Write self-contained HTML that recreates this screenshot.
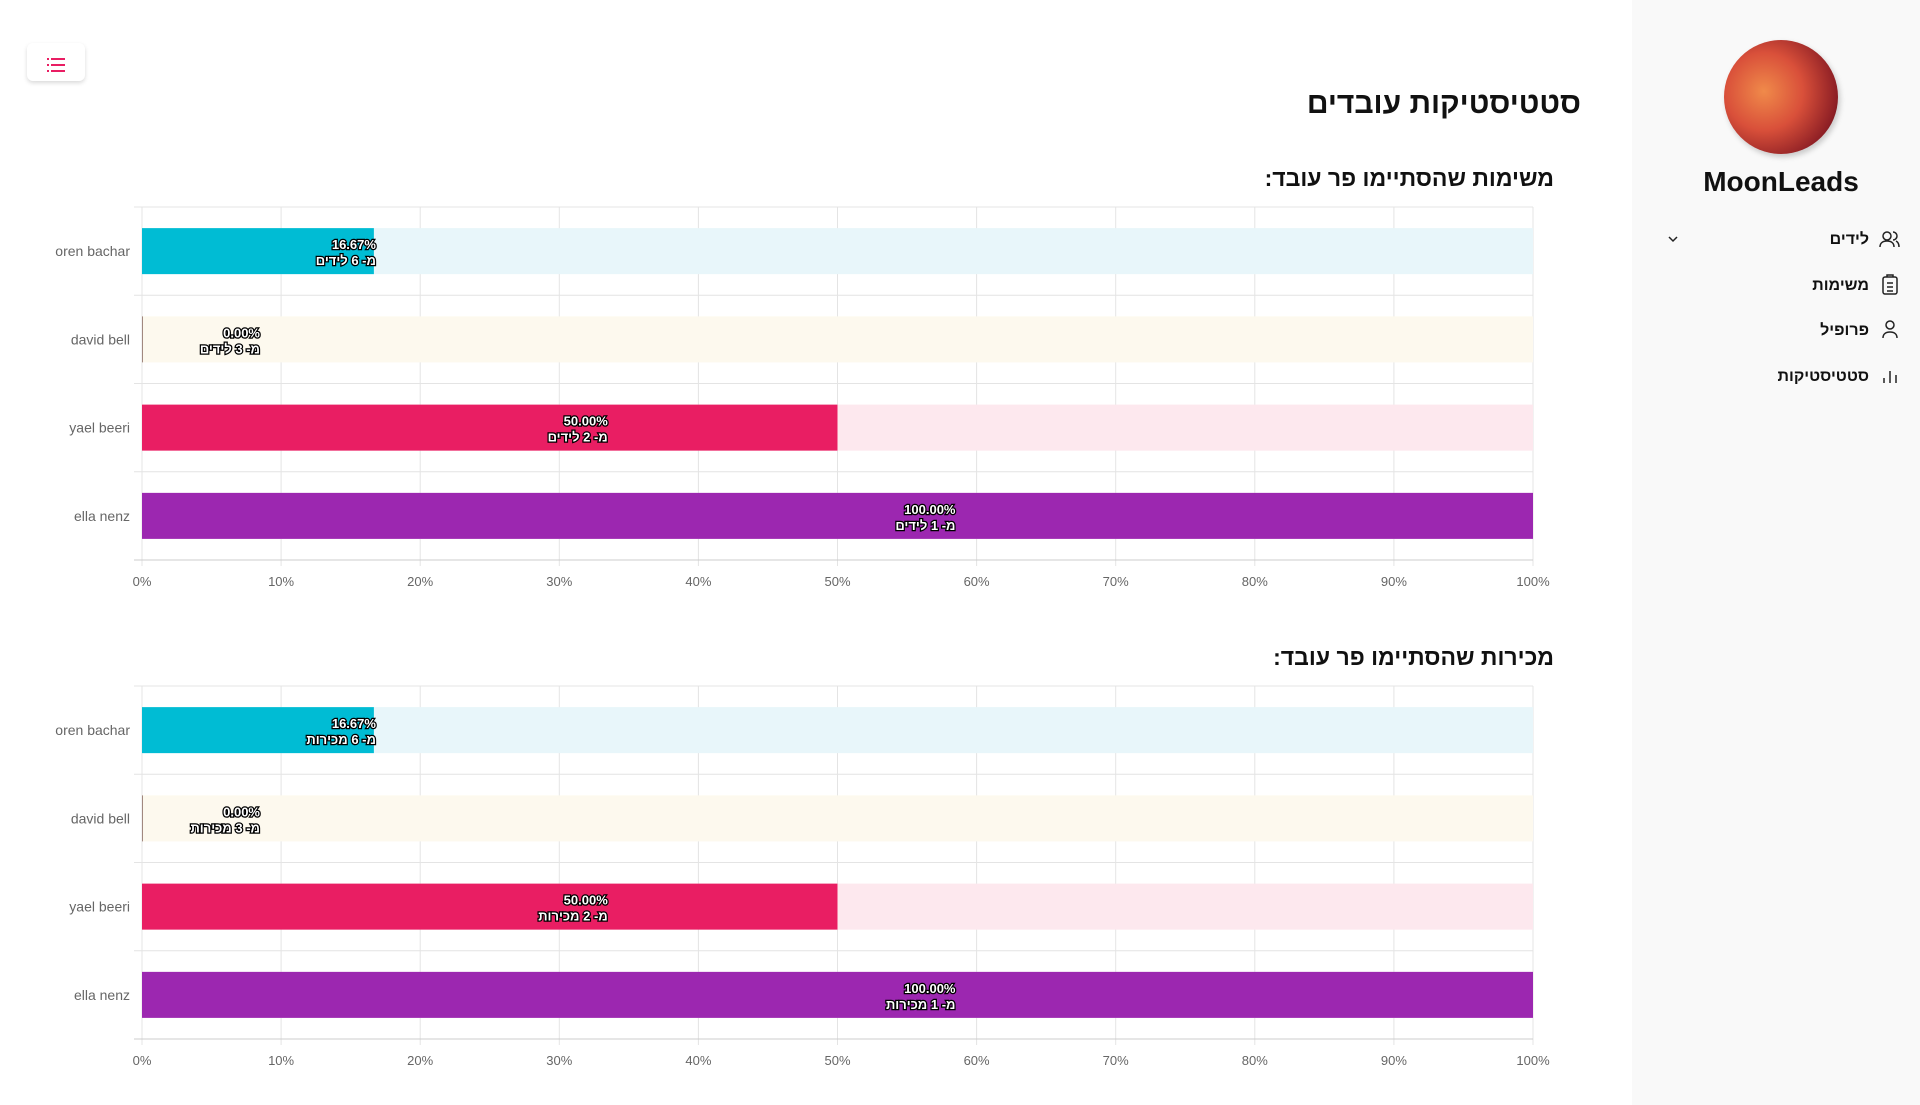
<!DOCTYPE html>
<html><head><meta charset="utf-8">
<style>
body{margin:0;width:1920px;height:1105px;background:#fff;font-family:"Liberation Sans","DejaVu Sans","Noto Sans CJK JP",sans-serif;position:relative;overflow:hidden}
.side{position:absolute;left:1632px;top:0;width:288px;height:1105px;background:#f9f9f9}
.title{position:absolute;right:339px;top:87px;font-size:30px;font-weight:bold;direction:rtl;color:#111}
.ctitle{position:absolute;right:366px;font-size:23px;font-weight:bold;direction:rtl;color:#111}
.menu{position:absolute;left:27px;top:43px;width:58px;height:38px;background:#fff;border-radius:6px;box-shadow:0 2px 4px rgba(0,0,0,.15)}
.item{position:absolute;right:51px;font-size:16px;font-weight:bold;direction:rtl;color:#111}
svg text{font-family:"Liberation Sans","DejaVu Sans","Noto Sans CJK JP",sans-serif}
</style></head><body>
<div class="menu">
<svg width="58" height="38"><g fill="#e91e63"><rect x="20" y="15" width="2" height="2"/><rect x="24" y="15" width="14" height="2"/><rect x="20" y="21" width="2" height="2"/><rect x="24" y="21" width="14" height="2"/><rect x="20" y="27" width="2" height="2"/><rect x="24" y="27" width="14" height="2"/></g></svg></div>
<div class="title">סטטיסטיקות עובדים</div>
<div class="ctitle" style="top:165px">משימות שהסתיימו פר עובד:</div>
<div class="ctitle" style="top:644px">מכירות שהסתיימו פר עובד:</div>
<svg id="c1" style="position:absolute;left:0;top:0" width="1600" height="1105"></svg>
<div class="side">
<div style="position:absolute;left:92px;top:40px;width:114px;height:114px;border-radius:50%;background:radial-gradient(circle at 35% 45%,#f08a4a 0%,#d9503a 40%,#8e1f25 75%,#1a0a0a 100%);box-shadow:2px 3px 6px rgba(0,0,0,.2)"></div>
<div style="position:absolute;left:0;width:298px;text-align:center;top:166px;font-size:28px;font-weight:bold;color:#111">MoonLeads</div>
<div class="item" style="top:231px">לידים</div>
<svg style="position:absolute;left:35px;top:234px" width="12" height="10"><path d="M2 3l4 4 4-4" fill="none" stroke="#222" stroke-width="1.5"/></svg>
<div class="item" style="top:277px">משימות</div>
<div class="item" style="top:322px">פרופיל</div>
<div class="item" style="top:368px">סטטיסטיקות</div>
<svg style="position:absolute;left:246px;top:228px" width="24" height="170" fill="none" stroke="#222" stroke-width="1.5">
<circle cx="9" cy="8" r="4"/><path d="M2 19c0-4 3-6 7-6s7 2 7 6M15 4a4 4 0 0 1 0 8M18 13c2 1 3 3 3 6"/>
<rect x="5" y="49" width="14" height="17" rx="2"/><path d="M9 49v-2h6v2M9 55h6M9 59h6M9 63h6"/>
<circle cx="12" cy="97" r="4"/><path d="M5 110c0-4 3-6 7-6s7 2 7 6"/>
<path d="M6 155v-5M12 155v-12M18 155v-8"/></svg>
</div>
<script>
const names=["oren bachar","david bell","yael beeri","ella nenz"];
const tasksValues=[16.67,0,50,100];
const tasksTotals=[6,3,2,1];
const salesValues=[16.67,0,50,100];
const salesTotals=[6,3,2,1];
const ticks=[0,10,20,30,40,50,60,70,80,90,100];
const colors=["#00bcd4","#a1887f","#e91e63","#9c27b0"];
const bgColors=["#e8f6fa","#fdf9ee","#fde8ee","#f3e5f5"];
const svg=document.getElementById('c1');const NS="http://www.w3.org/2000/svg";
function el(t,a,p){const e=document.createElementNS(NS,t);for(const k in a)e.setAttribute(k,a[k]);(p||svg).appendChild(e);return e;}
function drawChart(top,vals,totals,unit,key){
  const L=142,R=1533,B=top+353,rowH=(B-top)/4;
  const x=v=>L+(R-L)*v/100;
  ticks.forEach(t=>{const l=el('line',{x1:x(t),x2:x(t),y1:top,y2:B+6,stroke:'#e4e4e4'});
    
    const tx=el('text',{x:x(t),y:B+26,'text-anchor':'middle','font-size':13,fill:'#666'});tx.textContent=t+'%';
    });
  for(let i=0;i<=4;i++){const l=el('line',{x1:L-8,x2:R,y1:top+i*rowH,y2:top+i*rowH,stroke:i==4?'#ccc':'#e4e4e4'});
    }
  names.forEach((n,i)=>{
    const cy=top+rowH*(i+0.5),h=46;
    const bg=el('rect',{x:L,y:cy-h/2,width:R-L,height:h,fill:bgColors[i]});
    
    const b=el('rect',{x:L,y:cy-h/2,width:Math.max(x(vals[i])-L,1),height:h,fill:colors[i]});
    
    const yl=el('text',{x:130,y:cy+5,'text-anchor':'end','font-size':14,fill:'#666'});yl.textContent=n;
    
    const lx=x(vals[i]/2)+118;
    const t1=el('text',{x:lx,y:cy-2,'text-anchor':'end','font-size':13,'font-weight':'bold',fill:'#fff',stroke:'#000','stroke-width':2.5,'paint-order':'stroke'});
    t1.textContent=vals[i].toFixed(2)+'%';
    
    const t2=el('text',{x:lx,y:cy+14,'text-anchor':'start','font-size':13,'font-weight':'bold',fill:'#fff',stroke:'#000','stroke-width':2.5,'paint-order':'stroke',direction:'rtl'});
    t2.textContent='מ- '+totals[i]+' '+unit;
    
  });
}
drawChart(207,tasksValues,tasksTotals,'לידים','tasks');
drawChart(686,salesValues,salesTotals,'מכירות','sales');
</script>
</body></html>
